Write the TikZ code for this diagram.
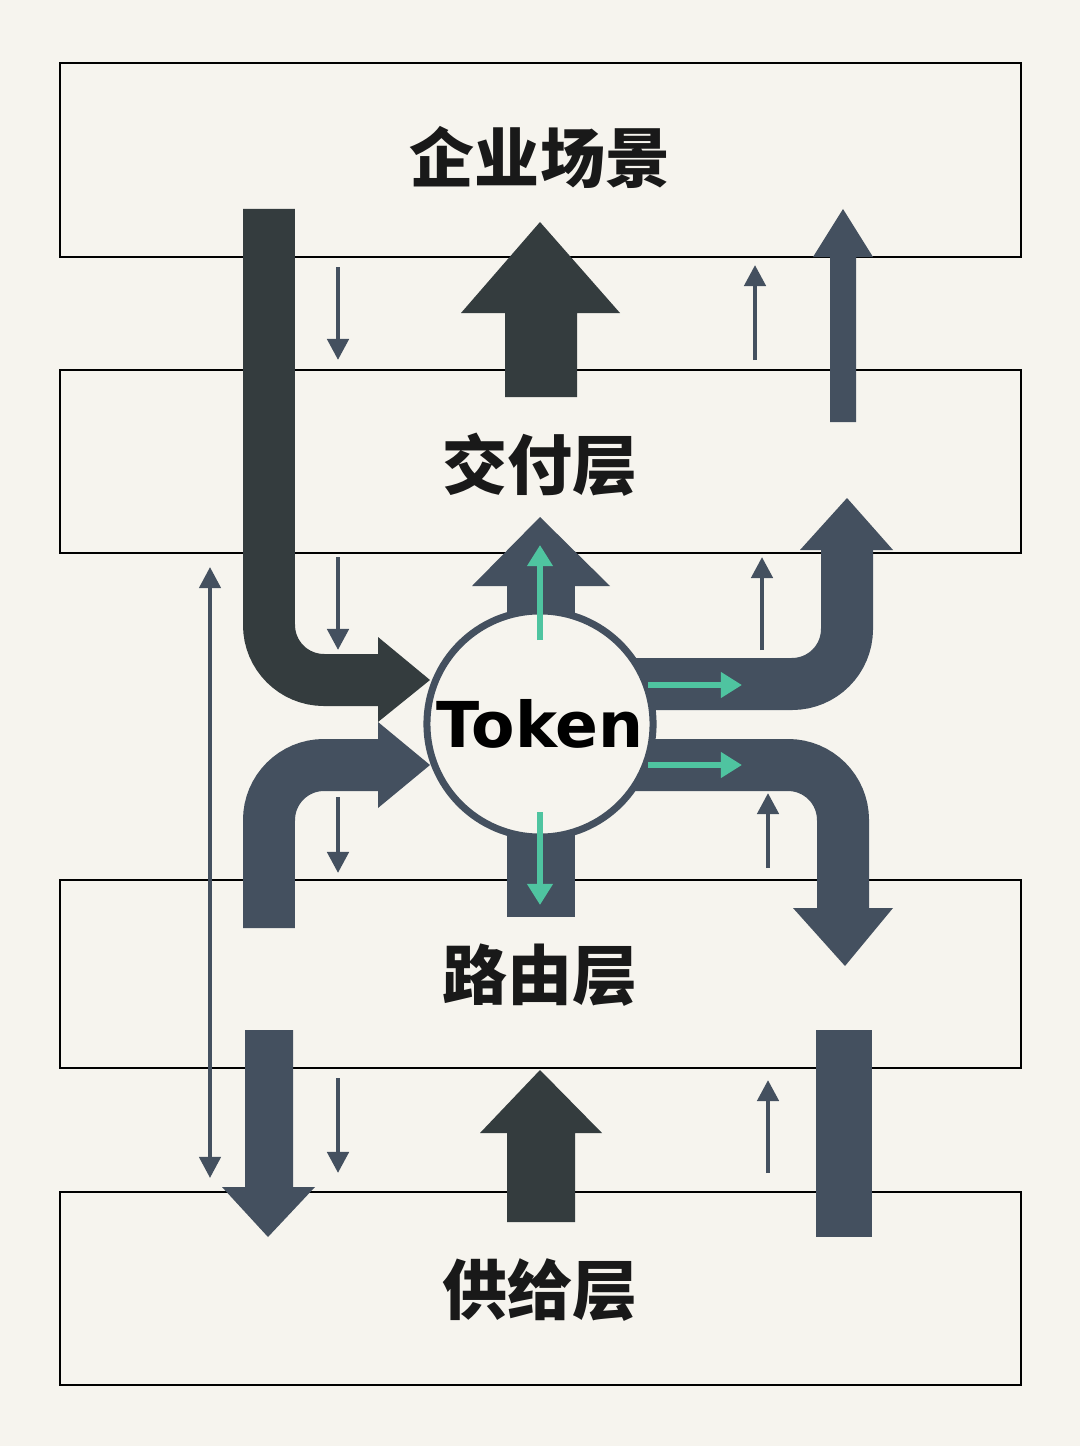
\documentclass[tikz,border=0pt]{standalone}
\usepackage{fontspec}
\setmainfont{DejaVu Sans}
\newfontfamily\cjk{Noto Sans CJK SC}
\usetikzlibrary{arrows.meta}
\definecolor{paper}{HTML}{F6F4EE}
\definecolor{charcoal}{HTML}{343C3E}
\definecolor{slate}{HTML}{44505F}
\definecolor{mint}{HTML}{4FC4A0}

\begin{document}
\begin{tikzpicture}[x=0.02cm, y=-0.02cm]
  \tikzset{
    layer/.style = {draw=black, line width=1.2pt},
    label/.style = {font=\cjk\bfseries\fontsize{37}{40}\selectfont, text=black!90},
    pipe/.style = {line width=1.04cm, rounded corners=1.1cm},
    thin/.style = {draw=slate, line width=2.6pt, -{Triangle[length=12pt, width=12pt]}},
    twin/.style = {draw=slate, line width=2.4pt, {Triangle[length=12pt, width=12pt]}-{Triangle[length=12pt, width=12pt]}},
    flow/.style = {draw=mint, line width=3.2pt, -{Triangle[length=12pt, width=14pt]}}
  }
  \fill[paper] (0,0) rectangle (1080,1446);
  \useasboundingbox (0,0) rectangle (1080,1446);

  % layers
  \draw[layer] (60,63) rectangle (1021,257);
  \draw[layer] (60,370) rectangle (1021,553);
  \draw[layer] (60,880) rectangle (1021,1068);
  \draw[layer] (60,1192) rectangle (1021,1385);
  \node[label] (scene) at (540,157) {企业场景};
  \node[label] (delivery) at (540,465) {交付层};
  \node[label] (routing) at (540,975) {路由层};
  \node[label] (supply) at (540,1290) {供给层};

  % big pipes
  \draw[pipe, charcoal] (269,209) -- (269,680) -- (382,680);
  \fill[charcoal] (378,637) -- (430,680) -- (378,722) -- cycle;
  \draw[pipe, slate] (269,928) -- (269,765) -- (382,765);
  \fill[slate] (378,722) -- (430,765) -- (378,808) -- cycle;
  \draw[pipe, slate] (600,684) -- (847,684) -- (847,548);
  \fill[slate] (800,550) -- (847,498) -- (893,550) -- cycle;
  \draw[pipe, slate] (600,765) -- (843,765) -- (843,910);
  \fill[slate] (793,908) -- (845,966) -- (893,908) -- cycle;
  \fill[slate] (507,586) rectangle (575,917);
  \fill[slate] (472,586) -- (540,517) -- (610,586) -- cycle;

  % upper arrows
  \fill[charcoal] (505,397) rectangle (577,312) (461,313) -- (540,222) -- (620,313) -- cycle;
  \fill[slate] (830,422) rectangle (856,255) (813,257) -- (843,209) -- (873,257) -- cycle;

  % lower arrows
  \fill[slate] (245,1030) rectangle (293,1188) (222,1187) -- (268,1237) -- (315,1187) -- cycle;
  \fill[charcoal] (507,1222) rectangle (575,1132) (480,1133) -- (540,1070) -- (602,1133) -- cycle;
  \fill[slate] (816,1030) rectangle (872,1237);

  % token
  \node[circle, draw=slate, line width=4pt, fill=paper, minimum size=4.5cm,
    font=\bfseries\fontsize{36}{40}\selectfont] (token) at (540,724) {Token};

  \draw[flow] (540,640) -- (540,545);
  \draw[flow] (540,812) -- (540,905);
  \draw[flow] (648,685) -- (742,685);
  \draw[flow] (648,765) -- (742,765);

  % thin arrows
  \foreach \a/\b in {267/360, 557/650, 797/873, 1078/1173}
    \draw[thin] (338,\a) -- (338,\b);
  \draw[thin] (755,360) -- (755,265);
  \draw[thin] (762,650) -- (762,557);
  \draw[thin] (768,868) -- (768,793);
  \draw[thin] (768,1173) -- (768,1080);
  \draw[twin] (210,567) -- (210,1178);
\end{tikzpicture}
\end{document}
